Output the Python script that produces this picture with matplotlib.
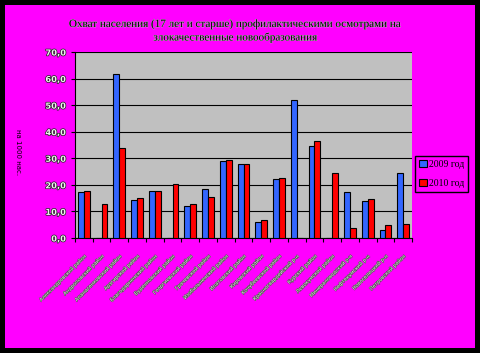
import numpy as np
import matplotlib
matplotlib.use("Agg")
import matplotlib.pyplot as plt
import matplotlib.patheffects as pe
from matplotlib.patches import Rectangle

districts = [
    "Александровский район", "Андроповский район", "Апанасенковский район",
    "Арзгирский район", "Благодарненский район", "Буденновский район",
    "Георгиевский район", "Грачевский район", "Изобильненский район",
    "Ипатовский район", "Кировский район", "Кочубеевский район",
    "Красногвардейский р-н", "Курский район", "Левокумский район",
    "Минераловодский р-н", "Нефтекумский р-н", "Новоселицкий р-н",
    "Петровский район",
]
y2009 = [17.4, 0.0, 61.7, 14.4, 17.8, 0.0, 12.1, 18.6, 28.8, 28.0,
         6.1, 22.3, 51.9, 34.8, 0.0, 17.4, 14.0, 3.0, 24.6]
y2010 = [17.8, 12.9, 33.7, 15.2, 17.8, 20.5, 12.9, 15.5, 29.2, 27.7,
         6.8, 22.7, 0.0, 36.4, 24.6, 3.8, 14.8, 4.9, 5.3]
yticks = [0, 10, 20, 30, 40, 50, 60, 70]
series_names = ["2009 год", "2010 год"]
title = ("Охват населения (17 лет и старше) профилактическими осмотрами на\n"
         "злокачественные новообразования")
ylabel = "на 1000 нас."

MAG = "#ff00ff"
fig = plt.figure(figsize=(4.8, 3.53), dpi=100, facecolor="black")
fig.patches.append(Rectangle((5 / 480, 5 / 353), 470 / 480, 343 / 353,
                             transform=fig.transFigure, facecolor=MAG,
                             edgecolor="none", zorder=-10))

ax = fig.add_axes([75 / 480, 1 - 238 / 353, 337 / 480, 186 / 353])
ax.set_facecolor("#c0c0c0")

x = np.arange(len(districts))
w = 0.33
ax.bar(x - w / 2, y2009, w, color="#3366ff", edgecolor="black", lw=0.8,
       label=series_names[0], zorder=3)
ax.bar(x + w / 2, y2010, w, color="#ff0000", edgecolor="black", lw=0.8,
       label=series_names[1], zorder=3)

ax.set_xlim(-0.5, len(districts) - 0.5)
ax.set_ylim(0, 70)
ax.set_yticks(yticks)
ax.set_yticklabels([f"{v:.1f}".replace(".", ",") for v in yticks])
ax.yaxis.grid(True, color="black", lw=0.8, zorder=1)

ax.set_xticks(np.arange(len(districts) + 1) - 0.5)
ax.set_xticklabels([])
ax.set_xticks(x, minor=True)
ax.set_xticklabels(districts, minor=True, rotation=45, ha="right",
                   rotation_mode="anchor", fontsize=3.6, color="#e8e8e8",
                   path_effects=[pe.withStroke(linewidth=0.7, foreground="#505050")])
ax.tick_params(axis="x", which="minor", length=0, pad=11)
ax.tick_params(axis="x", which="major", length=3, direction="out", width=0.8)
ax.tick_params(axis="y", length=3, direction="out", width=0.8, labelsize=6,
               labelcolor="#f0f0f0")
for lab in ax.get_yticklabels():
    lab.set_path_effects([pe.withStroke(linewidth=1, foreground="#202020")])
    lab.set_fontweight("bold")

for s in ["top", "right"]:
    ax.spines[s].set_visible(False)
ax.spines["left"].set_linewidth(0.8)
ax.spines["bottom"].set_linewidth(0.8)

fig.text(18 / 480, 1 - 152 / 353, ylabel, rotation=-90, fontsize=5,
         ha="center", va="center", color="black")

fig.text(0.49, 1 - 31 / 353, title, ha="center", va="center", fontsize=8,
         family="Liberation Serif", linespacing=1.5, color="black",
         path_effects=[pe.withStroke(linewidth=0.4, foreground="#d0d0d0")])

leg = fig.legend(loc="center left", bbox_to_anchor=(415 / 480, 1 - 174 / 353),
                 prop={"family": "Liberation Serif", "size": 7},
                 fancybox=False, framealpha=1, facecolor=MAG, edgecolor="black",
                 handlelength=0.8, handleheight=0.8, handletextpad=0.25,
                 borderpad=0.4, borderaxespad=0, labelspacing=1.0)
leg.get_frame().set_linewidth(1)

fig.savefig("out.png", dpi=100, facecolor="black")
